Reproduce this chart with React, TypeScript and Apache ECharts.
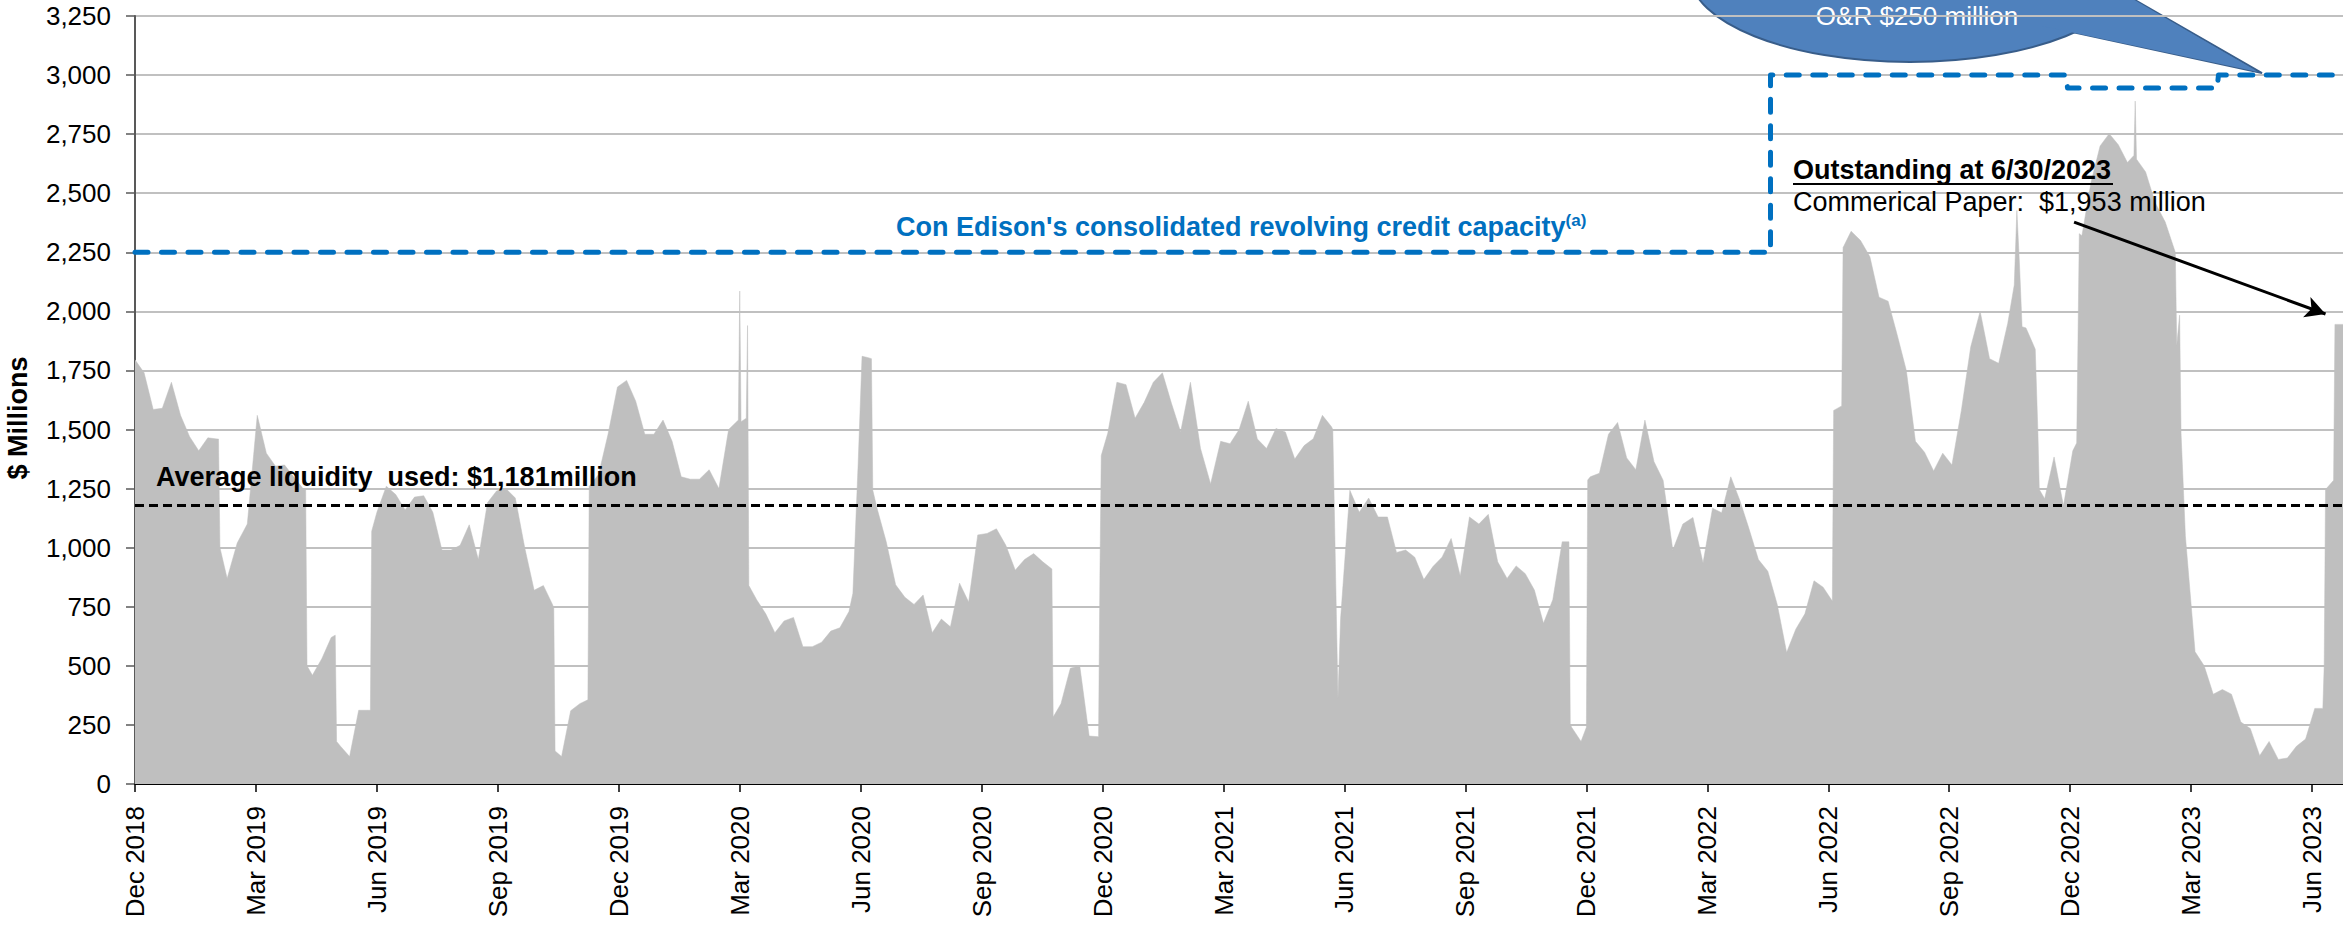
import React, { useEffect, useRef } from 'react';
import * as echarts from 'echarts';

// ---------------- data ----------------
// Weekly liquidity used ($ millions), one value every 7 days starting 2018-12-01
const weekStart = '2018-12-01';
const weeklyLiquidityUsed: number[] = [
  1795, 1740, 1585, 1590, 1700, 1560, 1470, 1410, 1465, 1460,
  870, 1020, 1100, 1560, 1400, 1345, 1350, 1300, 1250, 460,
  530, 620, 160, 116, 312, 312, 1150, 1260, 1225, 1160,
  1214, 1220, 1150, 990, 990, 1010, 1097, 950, 1190, 1240,
  1250, 1210, 1000, 820, 840, 760, 116, 310, 340, 1260,
  1310, 1480, 1680, 1708, 1620, 1480, 1480, 1540, 1450, 1300,
  1290, 1290, 1330, 1250, 1500, 1540, 1940, 780, 720, 640,
  690, 705, 581, 581, 600, 647, 661, 730, 1350, 1805,
  1170, 1025, 843, 790, 760, 800, 640, 698, 665, 850,
  770, 1054, 1060, 1080, 1010, 905, 950, 975, 940, 910,
  340, 490, 500, 203, 200, 1485, 1700, 1690, 1548, 1615,
  1700, 1740, 1610, 1490, 1700, 1420, 1270, 1450, 1440, 1500,
  1620, 1460, 1420, 1504, 1490, 1375, 1432, 1461, 1560, 1512,
  700, 1243, 1150, 1210, 1130, 1130, 980, 990, 960, 865,
  920, 960, 1039, 880, 1130, 1100, 1141, 940, 870, 923,
  890, 821, 680, 780, 1025, 240, 180, 1300, 1315, 1480,
  1530, 1380, 1330, 1540, 1364, 1285, 990, 1100, 1128, 935,
  1167, 1148, 1300, 1200, 1080, 950, 900, 760, 557, 655,
  720, 860, 833, 774, 1600, 2339, 2300, 2231, 2060, 2043,
  1900, 1750, 1450, 1404, 1325, 1400, 1350, 1580, 1850, 2000,
  1800, 1780, 1950, 2427, 1930, 1840, 1207, 1384, 1177, 1410,
  2320, 2545, 2700, 2752, 2705, 2630, 2644, 2590, 2460, 2378,
  2250, 1050, 560, 500, 380, 400, 380, 262, 235, 120,
  180, 104, 110, 160, 190, 320, 500, 1285, 1945,
];

// Extra daily readings around sharp moves and one-day spikes
const detailDates = [
  '2019-02-03', '2019-02-04', '2019-04-08', '2019-04-09', '2019-04-30', '2019-05-01',
  '2019-05-27', '2019-05-28', '2019-10-13', '2019-10-14', '2019-11-08',
  '2020-03-01', '2020-03-02', '2020-03-06', '2020-03-08',
  '2020-05-26', '2020-06-02', '2020-06-09', '2020-06-10',
  '2020-10-25', '2020-11-29', '2020-11-30',
  '2021-05-23', '2021-05-27',
  '2021-11-18', '2021-11-19', '2021-12-01', '2021-12-02',
  '2022-06-05', '2022-06-12',
  '2022-10-20', '2022-10-24', '2022-10-26', '2022-11-07', '2022-11-08',
  '2022-12-06', '2022-12-08',
  '2023-01-19', '2023-01-20', '2023-02-19', '2023-02-21', '2023-02-22',
  '2023-06-09', '2023-06-11', '2023-06-18',
];
const detailValues = [
  1460, 1000, 1245, 500, 630, 180,
  312, 1070, 745, 140, 356,
  2086, 1533, 1548, 840,
  807, 1810, 1800, 1243,
  283, 880, 1390,
  1500, 363,
  1025, 254, 240, 1286,
  1581, 2270,
  2112, 2200, 1935, 1482, 1246,
  1443, 2329,
  2660, 2890, 1856, 1984, 1482,
  320, 1246, 1945,
];

// Consolidated revolving credit capacity ($ millions)
const capacityDates = [
  '2018-12-01', '2022-04-18', '2022-04-18', '2022-11-28',
  '2022-11-29', '2023-03-21', '2023-03-22', '2023-06-30',
];
const capacityValues = [2250, 2250, 3000, 3000, 2945, 2945, 3000, 3000];

const averageLiquidityUsed = 1181;

// Arrow annotation (from label to the 6/30/2023 value)
const arrowDates = ['2022-12-04', '2023-06-11'];
const arrowValues = [2378, 1989];

const axisEndDate = '2023-06-24';

const quarterLabels = [
  'Dec 2018', 'Mar 2019', 'Jun 2019', 'Sep 2019', 'Dec 2019', 'Mar 2020', 'Jun 2020',
  'Sep 2020', 'Dec 2020', 'Mar 2021', 'Jun 2021', 'Sep 2021', 'Dec 2021', 'Mar 2022',
  'Jun 2022', 'Sep 2022', 'Dec 2022', 'Mar 2023', 'Jun 2023',
];

const yTicks = { min: 0, max: 3250, interval: 250 };

// ---------------- helpers ----------------
const FONT = "'Liberation Sans', Arial, Helvetica, sans-serif";

function parseDate(s: string): Date {
  const [y, m, d] = s.split('-').map(Number);
  return new Date(Date.UTC(y, m - 1, d));
}

// months elapsed since 1 Dec 2018 (fractional)
function monthIndex(d: Date): number {
  const y = d.getUTCFullYear();
  const mo = d.getUTCMonth();
  const day = d.getUTCDate();
  const dim = new Date(Date.UTC(y, mo + 1, 0)).getUTCDate();
  return (y - 2018) * 12 + (mo - 11) + (day - 1) / dim;
}

function buildOption() {
  const start = parseDate(weekStart);
  const weekly = weeklyLiquidityUsed.map((v, k) => {
    const d = new Date(start.getTime() + k * 7 * 86400000);
    return [monthIndex(d), v];
  });
  const detail = detailDates.map((s, i) => [monthIndex(parseDate(s)), detailValues[i]]);
  const liquidityData = [...weekly, ...detail].sort((a, b) => a[0] - b[0]);
  const capacityData = capacityDates.map((s, i) => [monthIndex(parseDate(s)), capacityValues[i]]);
  const xMax = monthIndex(parseDate(axisEndDate));

  return {
    animation: false,
    backgroundColor: '#ffffff',
    grid: { left: 135, right: 0, top: 16, bottom: 142, containLabel: false, outerBoundsMode: 'none' },
    xAxis: {
      type: 'value',
      min: 0,
      max: xMax,
      interval: 3,
      axisLine: { show: true, onZero: false, lineStyle: { color: '#000000', width: 2 } },
      axisTick: { show: true, length: 8, lineStyle: { color: '#000000', width: 1.5 } },
      splitLine: { show: false },
      axisLabel: {
        rotate: 90,
        margin: 22,
        fontSize: 26,
        fontFamily: FONT,
        color: '#000000',
        showMaxLabel: false,
        formatter: (v: number) => {
          const r = Math.round(v);
          if (Math.abs(v - r) > 1e-6 || r % 3 !== 0) return '';
          return quarterLabels[r / 3] ?? '';
        },
      },
    },
    yAxis: {
      type: 'value',
      min: yTicks.min,
      max: yTicks.max,
      interval: yTicks.interval,
      axisLine: { show: true, lineStyle: { color: '#595959', width: 2 } },
      axisTick: { show: true, length: 9, lineStyle: { color: '#595959', width: 1.5 } },
      splitLine: { show: true, lineStyle: { color: '#C0C0C0', width: 2 } },
      axisLabel: {
        margin: 24,
        fontSize: 26,
        fontFamily: FONT,
        color: '#000000',
        formatter: (v: number) => v.toLocaleString('en-US'),
      },
    },
    series: [
      {
        type: 'line',
        name: 'Liquidity used',
        data: liquidityData,
        symbol: 'none',
        showSymbol: false,
        silent: true,
        z: 2,
        lineStyle: { color: '#BFBFBF', width: 0.5 },
        areaStyle: { color: '#BFBFBF', opacity: 1 },
        markLine: {
          silent: true,
          symbol: ['none', 'none'],
          label: { show: false },
          lineStyle: { color: '#000000', width: 3, type: [9, 5] },
          data: [{ yAxis: averageLiquidityUsed }],
        },
      },
      {
        type: 'line',
        name: 'Credit capacity',
        data: capacityData,
        symbol: 'none',
        showSymbol: false,
        silent: true,
        z: 4,
        lineStyle: { color: '#0070C0', width: 5, type: [13, 13.5], cap: 'round', join: 'round' },
        markLine: {
          silent: true,
          symbol: ['none', 'arrow'],
          symbolSize: [16, 20],
          label: { show: false },
          lineStyle: { color: '#000000', width: 3, type: 'solid' },
          data: [
            [
              { coord: [monthIndex(parseDate(arrowDates[0])), arrowValues[0]] },
              { coord: [monthIndex(parseDate(arrowDates[1])), arrowValues[1]] },
            ],
          ],
        },
      },
    ],
    graphic: [
      // callout bubble (drawn beneath the gridlines)
      {
        type: 'polygon',
        z: -5,
        shape: { points: [[2040, 25], [2262, 73], [2100, -20]] },
        style: { fill: '#4F81BD', stroke: '#385D8A', lineWidth: 2 },
      },
      {
        type: 'ellipse',
        z: -5,
        shape: { cx: 1910, cy: -26, rx: 220, ry: 88 },
        style: { fill: '#4F81BD', stroke: '#385D8A', lineWidth: 2 },
      },
      {
        type: 'polygon',
        z: -5,
        shape: { points: [[2042, 26], [2258, 72], [2102, -19]] },
        style: { fill: '#4F81BD' },
      },
      {
        type: 'text',
        z: -5,
        x: 1917,
        y: 16,
        style: {
          text: 'O&R $250 million',
          fontSize: 26,
          fontFamily: FONT,
          fill: '#ffffff',
          align: 'center',
          verticalAlign: 'middle',
          textAlign: 'center',
          textVerticalAlign: 'middle',
        },
      },
      // y axis title
      {
        type: 'text',
        x: 18,
        y: 418,
        rotation: Math.PI / 2,
        style: {
          text: '$ Millions',
          fontSize: 27,
          fontWeight: 'bold',
          fontFamily: FONT,
          fill: '#000000',
          align: 'center',
          verticalAlign: 'middle',
          textAlign: 'center',
          textVerticalAlign: 'middle',
        },
      },
      // average label
      {
        type: 'text',
        z: 10,
        x: 156,
        y: 477,
        style: {
          text: 'Average liquidity  used: $1,181million',
          fontSize: 27,
          fontWeight: 'bold',
          fontFamily: FONT,
          fill: '#000000',
          align: 'left',
          verticalAlign: 'middle',
          textAlign: 'left',
          textVerticalAlign: 'middle',
        },
      },
      // capacity label
      {
        type: 'text',
        z: 10,
        x: 896,
        y: 227,
        style: {
          text: "{main|Con Edison's consolidated revolving credit capacity}{sup|(a)}",
          align: 'left',
          verticalAlign: 'middle',
          textAlign: 'left',
          textVerticalAlign: 'middle',
          rich: {
            main: { fontSize: 27, fontWeight: 'bold', fontFamily: FONT, fill: '#0070C0', lineHeight: 30 },
            sup: { fontSize: 17, fontWeight: 'bold', fontFamily: FONT, fill: '#0070C0', lineHeight: 17, verticalAlign: 'top' },
          },
        },
      },
      // outstanding label
      {
        type: 'text',
        z: 10,
        x: 1793,
        y: 170,
        style: {
          text: 'Outstanding at 6/30/2023',
          fontSize: 27,
          fontWeight: 'bold',
          fontFamily: FONT,
          fill: '#000000',
          align: 'left',
          verticalAlign: 'middle',
          textAlign: 'left',
          textVerticalAlign: 'middle',
        },
      },
      {
        type: 'line',
        z: 10,
        shape: { x1: 1793, y1: 184, x2: 2113, y2: 184 },
        style: { stroke: '#000000', lineWidth: 2 },
      },
      {
        type: 'text',
        z: 10,
        x: 1793,
        y: 202,
        style: {
          text: 'Commerical Paper:  $1,953 million',
          fontSize: 27,
          fontFamily: FONT,
          fill: '#000000',
          align: 'left',
          verticalAlign: 'middle',
          textAlign: 'left',
          textVerticalAlign: 'middle',
        },
      },
    ],
  };
}

export default function App() {
  const ref = useRef<HTMLDivElement>(null);
  useEffect(() => {
    document.body.style.margin = '0';
    document.body.style.overflow = 'hidden';
    if (!ref.current) return;
    const chart = echarts.init(ref.current, undefined, { renderer: 'svg' });
    chart.setOption(buildOption() as any);
    return () => {
      chart.dispose();
    };
  }, []);
  return <div ref={ref} style={{ width: 2343, height: 926 }} />;
}
